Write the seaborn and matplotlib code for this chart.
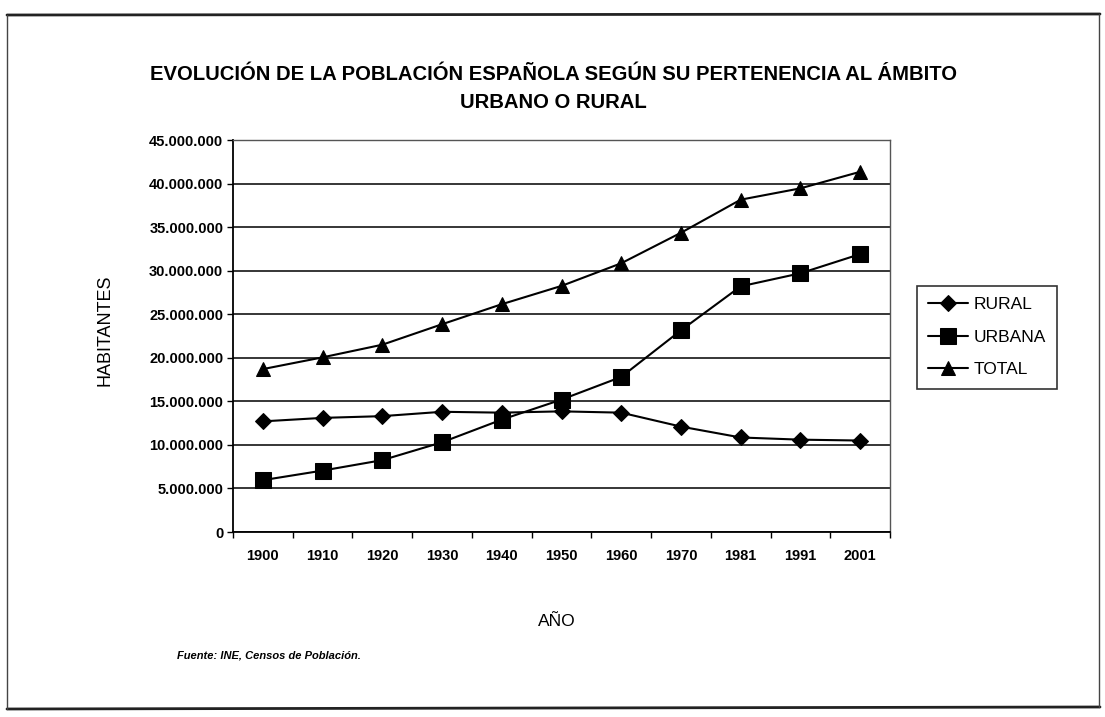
import matplotlib
matplotlib.use('Agg')
import matplotlib.pyplot as plt
from matplotlib.lines import Line2D
from matplotlib.ticker import FuncFormatter, MultipleLocator
import seaborn as sns
import pandas as pd
import numpy as np

# datos (habitantes)
anios = ['1900', '1910', '1920', '1930', '1940', '1950', '1960', '1970', '1981', '1991', '2001']
rural = [12700000, 13100000, 13300000, 13800000, 13700000, 13850000, 13700000, 12100000, 10850000, 10600000, 10500000]
urbana = [5950000, 7050000, 8250000, 10300000, 12900000, 15200000, 17800000, 23150000, 28200000, 29700000, 31900000]
total = [18700000, 20050000, 21500000, 23850000, 26150000, 28250000, 30850000, 34350000, 38150000, 39450000, 41350000]

sns.set_style('white')
plt.rcParams['font.family'] = ['Liberation Sans', 'DejaVu Sans']
plt.rcParams['text.color'] = 'black'
plt.rcParams['xtick.color'] = 'black'
plt.rcParams['ytick.color'] = 'black'
plt.rcParams['axes.labelcolor'] = 'black'

fig = plt.figure(figsize=(11.05, 7.17), dpi=100)
ax = fig.add_axes([233/1105, 1-532/717, (890-233)/1105, (532-140)/717])

series = [('RURAL', rural, 'D', 8), ('URBANA', urbana, 's', 11), ('TOTAL', total, '^', 10)]
for nombre, vals, mk, ms in series:
    df = pd.DataFrame({'Año': anios, 'Habitantes': vals})
    sns.lineplot(data=df, x='Año', y='Habitantes', ax=ax, color='black', linewidth=1.5,
                 marker=mk, markersize=ms, markeredgecolor='black', label=nombre, sort=False)

ax.set_xlim(-0.5, len(anios) - 0.5)
ax.set_ylim(0, 45000000)
ax.yaxis.set_major_locator(MultipleLocator(5000000))
ax.yaxis.set_major_formatter(FuncFormatter(lambda v, p: f"{int(v):,}".replace(',', '.')))
ax.grid(axis='y', color='black', linewidth=1.1)
ax.set_axisbelow(True)

ax.set_xticks(range(len(anios)))
ax.set_xticklabels(anios)
ax.set_xticks(np.arange(-0.5, len(anios), 1), minor=True)
ax.tick_params(axis='x', which='major', length=0, pad=12, labelsize=10.5)
ax.tick_params(axis='x', which='minor', direction='out', length=4, width=1, color='black', bottom=True)
ax.tick_params(axis='y', direction='out', length=4, width=1, color='black', left=True, pad=3, labelsize=10.5)
for lab in ax.get_xticklabels() + ax.get_yticklabels():
    lab.set_fontweight('bold')

ax.set_xlabel('')
ax.set_ylabel('')
for s in ['left', 'bottom']:
    ax.spines[s].set_color('black')
    ax.spines[s].set_linewidth(1.3)
for s in ['top', 'right']:
    ax.spines[s].set_color('#555555')
    ax.spines[s].set_linewidth(1)
    ax.spines[s].set_linestyle((0, (1, 1)))

handles, labels = ax.get_legend_handles_labels()
leg = ax.legend(handles, labels, loc='upper left', bbox_to_anchor=(917/1105, 1-286/717),
                bbox_transform=fig.transFigure, frameon=True, fancybox=False, fontsize=12.5,
                handlelength=2.3, handletextpad=0.3, labelspacing=1.0, borderpad=0.65,
                borderaxespad=0)
leg.get_frame().set_edgecolor('black')
leg.get_frame().set_linewidth(1.2)

fig.text(553/1105, 1-89/717, 'EVOLUCIÓN DE LA POBLACIÓN ESPAÑOLA SEGÚN SU PERTENENCIA AL ÁMBITO\nURBANO O RURAL',
         ha='center', va='center', fontsize=14.6, fontweight='bold', linespacing=1.6)
fig.text(105/1105, 1-330/717, 'HABITANTES', rotation=90, ha='center', va='center', fontsize=13)
fig.text(557/1105, 1-622/717, 'AÑO', ha='center', va='center', fontsize=12.5)
fig.text(177/1105, 1-656/717, 'Fuente: INE, Censos de Población.', ha='left', va='center',
         fontsize=8, style='italic', fontweight='bold')

# marco exterior
fig.add_artist(Line2D([7/1105, 1100/1105], [1-15/717, 1-14/717], color='#222222', linewidth=2, transform=fig.transFigure))
fig.add_artist(Line2D([7/1105, 1100/1105], [1-709/717, 1-707/717], color='#222222', linewidth=2, transform=fig.transFigure))
fig.add_artist(Line2D([7/1105, 7/1105], [1-15/717, 1-709/717], color='#444444', linewidth=1, transform=fig.transFigure))
fig.add_artist(Line2D([1099/1105, 1099/1105], [1-14/717, 1-707/717], color='#444444', linewidth=1, transform=fig.transFigure))

fig.savefig('out.png', dpi=100)
